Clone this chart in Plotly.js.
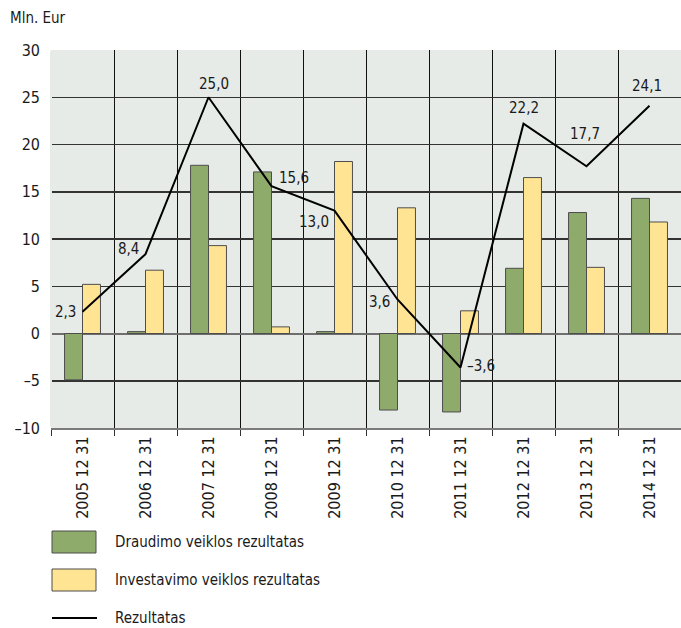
<!DOCTYPE html>
<html>
<head>
<meta charset="utf-8">
<script src="https://cdn.plot.ly/plotly-3.0.1.min.js"></script>
<style>html,body{margin:0;padding:0;background:#fff;}#chart{width:681px;height:628px;}</style>
</head>
<body>
<div id="chart"></div>
<script>
const categories = ["2005 12 31","2006 12 31","2007 12 31","2008 12 31","2009 12 31","2010 12 31","2011 12 31","2012 12 31","2013 12 31","2014 12 31"];
const draudimo = [-4.9, 0.2, 17.8, 17.1, 0.2, -8.1, -8.3, 6.9, 12.8, 14.3];
const investavimo = [5.2, 6.7, 9.3, 0.7, 18.2, 13.3, 2.4, 16.5, 7.0, 11.8];
const rezultatas = [2.3, 8.4, 25.0, 15.6, 13.0, 3.6, -3.6, 22.2, 17.7, 24.1];
const seriesNames = ["Draudimo veiklos rezultatas", "Investavimo veiklos rezultatas", "Rezultatas"];
const yTicks = [-10, -5, 0, 5, 10, 15, 20, 25, 30];

const FONT = '"Liberation Sans Narrow", "Arial Narrow", "DejaVu Sans Condensed", sans-serif';
const GREEN = '#8fab6b', YELLOW = '#ffe593', EDGE = '#4d4d4d', BG = '#e6ebe8';

function fmt(v){ const s = Math.abs(v).toFixed(1).replace('.', ','); return v < 0 ? '\u2013' + s : s; }

// label placement (style only)
const labelPos = [
  {xa:'right', ya:'middle', xs:-5, ys:0},
  {xa:'right', ya:'middle', xs:-5, ys:5},
  {xa:'center', ya:'bottom', xs:5, ys:2},
  {xa:'left', ya:'middle', xs:5, ys:8},
  {xa:'right', ya:'middle', xs:-4, ys:-11},
  {xa:'right', ya:'middle', xs:-6, ys:-3},
  {xa:'left', ya:'middle', xs:4, ys:2},
  {xa:'center', ya:'bottom', xs:0, ys:5},
  {xa:'center', ya:'bottom', xs:-2, ys:21},
  {xa:'center', ya:'bottom', xs:-3, ys:9}
];

const annotations = rezultatas.map((v, i) => ({
  x: categories[i], y: v, xref: 'x', yref: 'y', text: fmt(v), showarrow: false,
  xanchor: labelPos[i].xa, yanchor: labelPos[i].ya, xshift: labelPos[i].xs, yshift: labelPos[i].ys,
  font: {family: FONT, size: 15, color: '#1a1a1a'}
}));

// plot area px: x 51..681, y 50..428
const px = X => (X - 51) / 630;
const py = Y => (428 - Y) / 378;

annotations.push({
  xref: 'paper', yref: 'paper', x: px(8), y: py(18), xanchor: 'left', yanchor: 'middle',
  text: 'Mln. Eur', showarrow: false, font: {family: FONT, size: 15, color: '#1a1a1a'}
});

// custom legend
const legendRows = [542, 580, 618];
legendRows.forEach((Y, i) => {
  annotations.push({
    xref: 'paper', yref: 'paper', x: px(113), y: py(Y), xanchor: 'left', yanchor: 'middle',
    text: seriesNames[i], showarrow: false, font: {family: FONT, size: 15, color: '#1a1a1a'}
  });
});
const shapes = [
  {type: 'line', xref: 'paper', yref: 'paper', x0: 0, x1: 0, y0: 0.003, y1: 0.997,
   line: {color: BG, width: 2}, layer: 'above'},
  {type: 'rect', xref: 'paper', yref: 'paper', x0: px(52), x1: px(96), y0: py(553), y1: py(531),
   fillcolor: GREEN, line: {color: EDGE, width: 1}},
  {type: 'rect', xref: 'paper', yref: 'paper', x0: px(52), x1: px(96), y0: py(591), y1: py(569),
   fillcolor: YELLOW, line: {color: EDGE, width: 1}},
  {type: 'line', xref: 'paper', yref: 'paper', x0: px(52), x1: px(97), y0: py(618), y1: py(618),
   line: {color: '#000', width: 2}}
];

const data = [
  {type: 'bar', name: seriesNames[0], x: categories, y: draudimo,
   marker: {color: GREEN, line: {color: EDGE, width: 1}}, hoverinfo: 'skip'},
  {type: 'bar', name: seriesNames[1], x: categories, y: investavimo,
   marker: {color: YELLOW, line: {color: EDGE, width: 1}}, hoverinfo: 'skip'},
  {type: 'scatter', mode: 'lines', name: seriesNames[2], x: categories, y: rezultatas,
   line: {color: '#000', width: 2}, hoverinfo: 'skip'}
];

const layout = {
  width: 681, height: 628,
  margin: {l: 51, r: 0, t: 50, b: 200},
  paper_bgcolor: '#ffffff', plot_bgcolor: BG,
  showlegend: false,
  barmode: 'group', bargap: 0.43, bargroupgap: 0,
  font: {family: FONT, size: 15, color: '#1a1a1a'},
  xaxis: {
    type: 'category', tickson: 'boundaries', showgrid: true, gridcolor: '#111', gridwidth: 1,
    ticks: 'outside', ticklen: 6, tickcolor: '#333', tickangle: -90,
    showline: true, linecolor: '#7a7a7a', linewidth: 2,
    tickfont: {family: FONT, size: 16, color: '#1a1a1a'},
    range: [-0.5, 9.5], fixedrange: true
  },
  yaxis: {
    range: [-10, 30], tickvals: yTicks, ticktext: yTicks.map(v => v < 0 ? '\u2013' + Math.abs(v) : String(v)),
    showgrid: true, gridcolor: '#333', gridwidth: 1.5,
    zeroline: true, zerolinecolor: '#6e6e6e', zerolinewidth: 2,
    ticks: '', ticklabelstandoff: 10,
    tickfont: {family: FONT, size: 16, color: '#1a1a1a'},
    showline: false, fixedrange: true
  },
  annotations: annotations,
  shapes: shapes
};

Plotly.newPlot('chart', data, layout, {displayModeBar: false, staticPlot: true});
</script>
</body>
</html>
